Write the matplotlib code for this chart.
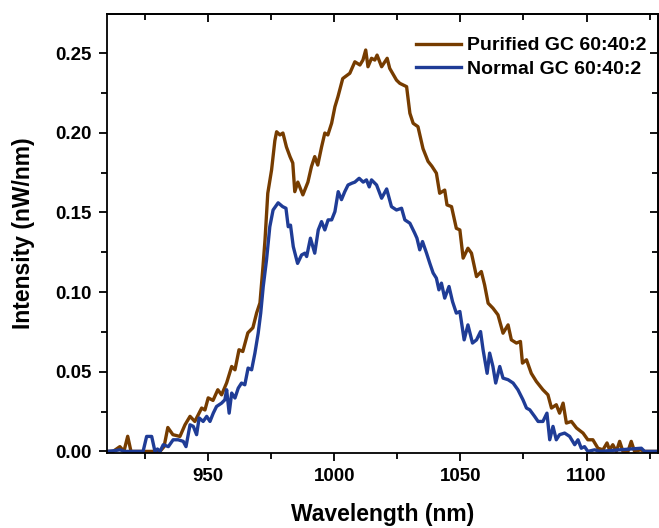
import matplotlib
matplotlib.use("Agg")
import matplotlib.pyplot as plt
from matplotlib.ticker import MultipleLocator

plt.rcParams['font.family'] = ['Liberation Sans', 'DejaVu Sans']
plt.rcParams['font.weight'] = 'bold'

# Purified GC 60:40:2
wl_purified = [910.0, 912.4, 915.1, 916.7, 918.2, 919.5, 923.1, 927.0, 931.0, 932.6, 934.1, 936.1,
               938.9, 940.9, 942.9, 944.8, 947.5, 948.8, 950.1, 952.0, 953.9, 955.4, 957.4, 959.4,
               960.7, 962.3, 963.8, 965.8, 967.8, 969.3, 970.6, 971.8, 972.6, 973.7, 975.2, 976.5,
               977.2, 978.5, 979.7, 981.1, 982.5, 983.6, 984.4, 985.6, 987.6, 989.6, 991.0, 992.3,
               993.5, 995.0, 996.3, 997.5, 999.0, 1000.3, 1001.5, 1003.4, 1006.2, 1008.2, 1010.2,
               1011.4, 1012.5, 1013.4, 1014.8, 1016.1, 1017.0, 1018.8, 1021.0, 1022.0, 1024.7,
               1026.0, 1028.7, 1030.0, 1031.3, 1033.2, 1035.2, 1037.2, 1038.7, 1040.5, 1041.8,
               1043.8, 1044.7, 1046.5, 1048.4, 1049.8, 1051.1, 1053.0, 1054.4, 1056.4, 1058.3,
               1059.6, 1061.0, 1062.9, 1064.9, 1066.9, 1068.9, 1070.2, 1072.2, 1073.8, 1074.6,
               1076.2, 1078.1, 1080.1, 1082.7, 1084.7, 1086.1, 1088.0, 1089.3, 1090.7, 1092.0,
               1094.0, 1096.0, 1098.6, 1100.5, 1102.5, 1104.5, 1106.5, 1108.1, 1109.1, 1110.4,
               1111.8, 1113.1, 1114.4, 1116.4, 1117.7, 1119.0, 1121.4, 1123.0, 1128.1]
int_purified = [0.0, 0.0, 0.003, 0.0, 0.0095, 0.0, 0.0, 0.0, 0.0, 0.003, 0.015, 0.0105,
                0.0094, 0.0167, 0.022, 0.0188, 0.0272, 0.026, 0.0336, 0.032, 0.0387, 0.0355, 0.043, 0.0533,
                0.0512, 0.0638, 0.0627, 0.0744, 0.0776, 0.087, 0.0932, 0.116, 0.1327, 0.162, 0.1766, 0.195,
                0.2006, 0.1986, 0.1998, 0.191, 0.185, 0.181, 0.163, 0.169, 0.161, 0.169, 0.1787, 0.185,
                0.1797, 0.191, 0.1998, 0.1986, 0.206, 0.2163, 0.2226, 0.234, 0.2373, 0.2445, 0.2425,
                0.2456, 0.2519, 0.2414, 0.2467, 0.2456, 0.2487, 0.2414, 0.2467, 0.2404, 0.233,
                0.231, 0.2289, 0.2122, 0.2059, 0.2038, 0.190, 0.182, 0.179, 0.1746, 0.162,
                0.164, 0.1547, 0.1536, 0.140, 0.139, 0.1213, 0.1275, 0.1244, 0.1097, 0.1129,
                0.1045, 0.093, 0.0899, 0.0857, 0.0742, 0.0794, 0.070, 0.068, 0.069, 0.0554,
                0.0575, 0.049, 0.0439, 0.0387, 0.0355, 0.0272, 0.0293, 0.024, 0.0303, 0.0178,
                0.0188, 0.0147, 0.0115, 0.0073, 0.0073, 0.002, 0.001, 0.0053, 0.001, 0.0042,
                0.0, 0.0063, 0.0, 0.0, 0.0063, 0.0, 0.001, 0.0, 0.0]

# Normal GC 60:40:2
wl_normal = [910.0, 913.2, 915.1, 917.1, 924.3, 925.7, 927.7, 929.0, 930.0, 931.0, 932.3, 934.3,
             936.2, 938.2, 940.2, 941.3, 942.9, 944.2, 945.5, 946.5, 948.1, 949.5, 950.8, 952.1,
             953.4, 955.4, 956.7, 957.4, 958.4, 959.4, 960.7, 962.0, 963.3, 964.6, 965.9, 967.3,
             968.6, 969.9, 970.9, 971.9, 973.2, 974.5, 975.8, 977.8, 979.6, 980.9, 981.8, 982.7,
             983.8, 985.5, 987.1, 988.4, 989.1, 990.6, 992.3, 993.7, 995.0, 996.3, 997.6, 999.0,
             1000.3, 1001.6, 1002.9, 1004.2, 1005.5, 1007.0, 1008.2, 1009.9, 1011.5, 1012.8,
             1013.9, 1014.8, 1016.8, 1018.8, 1020.8, 1022.7, 1024.7, 1026.7, 1028.0, 1030.0,
             1031.9, 1032.8, 1033.9, 1035.0, 1036.6, 1037.9, 1039.2, 1040.5, 1041.5, 1042.5,
             1043.8, 1045.5, 1046.9, 1048.4, 1049.8, 1051.5, 1053.0, 1054.8, 1056.4, 1058.0,
             1059.0, 1060.6, 1061.6, 1062.9, 1064.0, 1065.6, 1066.9, 1068.9, 1070.9, 1072.8,
             1074.8, 1076.2, 1077.5, 1079.4, 1080.8, 1082.7, 1084.3, 1085.4, 1086.7, 1088.0,
             1089.3, 1091.3, 1093.3, 1095.3, 1096.6, 1097.9, 1099.2, 1100.5, 1103.2, 1105.2,
             1113.1, 1121.7, 1123.0, 1128.1]
int_normal = [0.0, 0.0005, 0.001, 0.0, 0.0, 0.0094, 0.0094, 0.0, 0.0015, 0.0, 0.0042, 0.003,
              0.0073, 0.0073, 0.0063, 0.003, 0.0167, 0.0157, 0.0105, 0.021, 0.0188, 0.022, 0.0188, 0.024,
              0.0282, 0.0303, 0.0324, 0.0387, 0.024, 0.0366, 0.0335, 0.0397, 0.0429, 0.0418, 0.0523, 0.0512,
              0.0617, 0.0742, 0.0868, 0.1035, 0.1202, 0.141, 0.1515, 0.156, 0.1536, 0.1526, 0.141, 0.142,
              0.1285, 0.118, 0.1233, 0.1244, 0.1223, 0.1338, 0.1244, 0.139, 0.1442, 0.139, 0.1453, 0.1453,
              0.1505, 0.163, 0.158, 0.163, 0.1672, 0.1683, 0.169, 0.1714, 0.169, 0.1704,
              0.166, 0.1704, 0.1672, 0.1589, 0.1647, 0.1536, 0.1515, 0.1526, 0.1453, 0.1432,
              0.137, 0.1338, 0.1265, 0.1317, 0.1244, 0.118, 0.112, 0.1087, 0.1014, 0.1056,
              0.0962, 0.1035, 0.094, 0.0868, 0.0878, 0.070, 0.0794, 0.068, 0.070, 0.0752,
              0.0638, 0.049, 0.0617, 0.0533, 0.0429, 0.0533, 0.046, 0.045, 0.0429, 0.0387,
              0.0324, 0.0272, 0.0261, 0.022, 0.0188, 0.0188, 0.024, 0.0073, 0.0157, 0.0073,
              0.0105, 0.0115, 0.0094, 0.0042, 0.0073, 0.002, 0.003, 0.0, 0.001, 0.0,
              0.001, 0.002, 0.0, 0.0]

labels = ["Purified GC 60:40:2", "Normal GC 60:40:2"]
colors = ["#763c00", "#1f3c96"]

fig = plt.figure(figsize=(6.59, 5.28), dpi=100)
ax = fig.add_axes([107/659, 1 - 453/528, (658 - 107)/659, (453 - 14)/528])

ax.plot(wl_purified, int_purified, color=colors[0], lw=2.4, label=labels[0])
ax.plot(wl_normal, int_normal, color=colors[1], lw=2.4, label=labels[1])

ax.set_xlim(910, 1128.3)
ax.set_ylim(-0.001, 0.2745)

ax.xaxis.set_major_locator(MultipleLocator(50))
ax.xaxis.set_minor_locator(MultipleLocator(25))
ax.yaxis.set_major_locator(MultipleLocator(0.05))
ax.yaxis.set_minor_locator(MultipleLocator(0.025))
ax.yaxis.set_major_formatter(matplotlib.ticker.FormatStrFormatter('%.2f'))

ax.tick_params(which='major', direction='out', length=6, width=1.3, labelsize=13.5, pad=5)
ax.tick_params(which='minor', direction='out', length=4, width=1.3)
for lab in ax.get_xticklabels() + ax.get_yticklabels():
    lab.set_fontweight('bold')

for s in ax.spines.values():
    s.set_linewidth(1.3)

secx = ax.secondary_xaxis('top')
secx.xaxis.set_major_locator(MultipleLocator(50))
secx.xaxis.set_minor_locator(MultipleLocator(25))
secx.tick_params(which='major', direction='in', length=6, width=1.3, labeltop=False)
secx.tick_params(which='minor', direction='in', length=4, width=1.3)
secx.spines['top'].set_linewidth(1.3)

secy = ax.secondary_yaxis('right')
secy.yaxis.set_major_locator(MultipleLocator(0.05))
secy.yaxis.set_minor_locator(MultipleLocator(0.025))
secy.tick_params(which='major', direction='in', length=6, width=1.3, labelright=False)
secy.tick_params(which='minor', direction='in', length=4, width=1.3)
secy.spines['right'].set_linewidth(1.3)

ax.set_xlabel("Wavelength (nm)", fontsize=16.5, fontweight='bold', labelpad=13)
ax.set_ylabel("Intensity (nW/nm)", fontsize=16.5, fontweight='bold', labelpad=15)

leg = ax.legend(loc='upper right', bbox_to_anchor=(0.993, 0.966), frameon=False,
                prop={'size': 14, 'weight': 'bold'}, handlelength=2.3,
                handletextpad=0.3, labelspacing=0.29, borderaxespad=0)

fig.savefig("out.png", dpi=100)
